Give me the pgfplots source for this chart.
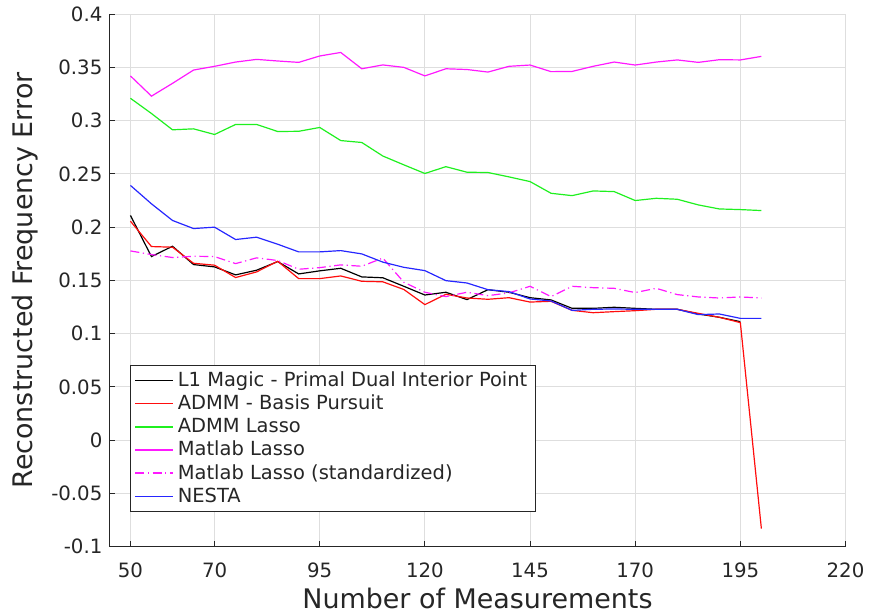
\documentclass[border=0pt]{standalone}
\usepackage{fontspec}
\setmainfont{DejaVu Sans}
\usepackage{pgfplots}
\usepackage{pgfplotstable}
\pgfplotsset{compat=1.18}
\definecolor{axgray}{gray}{0.15}
\definecolor{gridgray}{gray}{0.87}
\definecolor{cblack}{rgb}{0,0,0}
\definecolor{cred}{rgb}{1,0.05,0.05}
\definecolor{cgreen}{rgb}{0.12,0.94,0.12}
\definecolor{cmag}{rgb}{1,0.1,1}
\definecolor{cblue}{rgb}{0.15,0.15,1}
\pgfplotstableread{
x   l1      admm    lasso   mlasso  mlassos nesta
50  0.2110  0.2056  0.3210  0.3420  0.1777  0.2392
55  0.1724  0.1818  0.3067  0.3230  0.1743  0.2219
60  0.1821  0.1812  0.2914  0.3350  0.1715  0.2063
65  0.1649  0.1661  0.2923  0.3475  0.1727  0.1987
70  0.1627  0.1643  0.2870  0.3510  0.1724  0.2000
75  0.1552  0.1527  0.2964  0.3550  0.1658  0.1884
80  0.1596  0.1580  0.2964  0.3575  0.1712  0.1906
85  0.1677  0.1680  0.2898  0.3560  0.1687  0.1840
90  0.1561  0.1517  0.2900  0.3547  0.1605  0.1768
95  0.1590  0.1517  0.2936  0.3607  0.1620  0.1768
100 0.1614  0.1542  0.2813  0.3640  0.1646  0.1780
105 0.1533  0.1492  0.2795  0.3487  0.1633  0.1749
110 0.1525  0.1487  0.2668  0.3523  0.1710  0.1672
115 0.1445  0.1415  0.2585  0.3500  0.1483  0.1623
120 0.1363  0.1273  0.2504  0.3420  0.1389  0.1592
125 0.1389  0.1370  0.2568  0.3487  0.1348  0.1498
130 0.1320  0.1335  0.2516  0.3480  0.1389  0.1476
135 0.1413  0.1323  0.2513  0.3456  0.1357  0.1413
140 0.1389  0.1338  0.2472  0.3510  0.1383  0.1395
145 0.1338  0.1297  0.2428  0.3522  0.1445  0.1326
150 0.1317  0.1304  0.2318  0.3460  0.1348  0.1307
155 0.1238  0.1219  0.2296  0.3462  0.1445  0.1219
160 0.1238  0.1197  0.2340  0.3510  0.1432  0.1229
165 0.1248  0.1207  0.2334  0.3550  0.1426  0.1232
170 0.1238  0.1216  0.2250  0.3522  0.1386  0.1229
175 0.1229  0.1229  0.2271  0.3550  0.1426  0.1229
180 0.1229  0.1229  0.2262  0.3570  0.1367  0.1229
185 0.1185  0.1191  0.2209  0.3547  0.1345  0.1179
190 0.1154  0.1154  0.2171  0.3572  0.1335  0.1185
195 0.1113  0.1104  0.2165  0.3570  0.1345  0.1144
200 nan     -0.0830 0.2156  0.3603  0.1335  0.1144
}\datatable
\begin{document}
\color{axgray}%
\begin{tikzpicture}
\begin{axis}[
  scale only axis,
  width=369pt, height=267pt,
  xmin=45, xmax=220, ymin=-0.1, ymax=0.4,
  axis x line*=bottom, axis y line*=left,
  axis line style={draw=axgray, line width=0.5pt, -},
  xtick={50,70,95,120,145,170,195,220},
  xticklabels={50,70,95,120,145,170,195,220},
  ytick={-0.1,-0.05,0,0.05,0.1,0.15,0.2,0.25,0.3,0.35,0.4},
  yticklabels={-0.1,-0.05,0,0.05,0.1,0.15,0.2,0.25,0.3,0.35,0.4},
  tick align=inside,
  major tick length=3pt,
  tick style={draw=axgray, line width=0.5pt},
  ticklabel style={font=\fontsize{9.9}{11.7}\selectfont},
  xticklabel style={yshift=-4.5pt},
  xmajorgrids, ymajorgrids,
  grid style={draw=gridgray, line width=0.5pt},
  xlabel={Number of Measurements},
  ylabel={Reconstructed Frequency Error},
  every axis x label/.style={at={(axis description cs:0.5,-0.0968)}, anchor=center,
    inner sep=2.5pt, font=\fontsize{13.5}{16}\selectfont},
  every axis y label/.style={at={(axis description cs:-0.114,0.5)}, anchor=center, rotate=90,
    inner sep=6.25pt, font=\fontsize{13.5}{16}\selectfont},
  legend style={at={(axis description cs:0.028,0.066)}, anchor=south west,
    font=\fontsize{9.75}{11.5}\selectfont, draw=axgray, fill=white,
    line width=0.5pt, inner xsep=2pt, inner ysep=1pt, row sep=-1.2pt,
    cells={anchor=west}},
  legend image code/.code={\draw[#1, line width=0.75pt] (0pt,0pt) -- (19pt,0pt);},
  legend cell align=left,
]
\addplot[draw=cblack, line width=0.6pt] table[x=x, y=l1] {\datatable};
\addlegendentry{L1 Magic - Primal Dual Interior Point}
\addplot[draw=cred, line width=0.6pt] table[x=x, y=admm] {\datatable};
\addlegendentry{ADMM - Basis Pursuit}
\addplot[draw=cgreen, line width=0.6pt] table[x=x, y=lasso] {\datatable};
\addlegendentry{ADMM Lasso}
\addplot[draw=cmag, line width=0.6pt] table[x=x, y=mlasso] {\datatable};
\addlegendentry{Matlab Lasso}
\addplot[draw=cmag, line width=0.6pt, dash pattern=on 4.5pt off 1.8pt on 0.6pt off 1.8pt] table[x=x, y=mlassos] {\datatable};
\addlegendentry{Matlab Lasso (standardized)}
\addplot[draw=cblue, line width=0.6pt] table[x=x, y=nesta] {\datatable};
\addlegendentry{NESTA}
\end{axis}
\end{tikzpicture}
\end{document}
